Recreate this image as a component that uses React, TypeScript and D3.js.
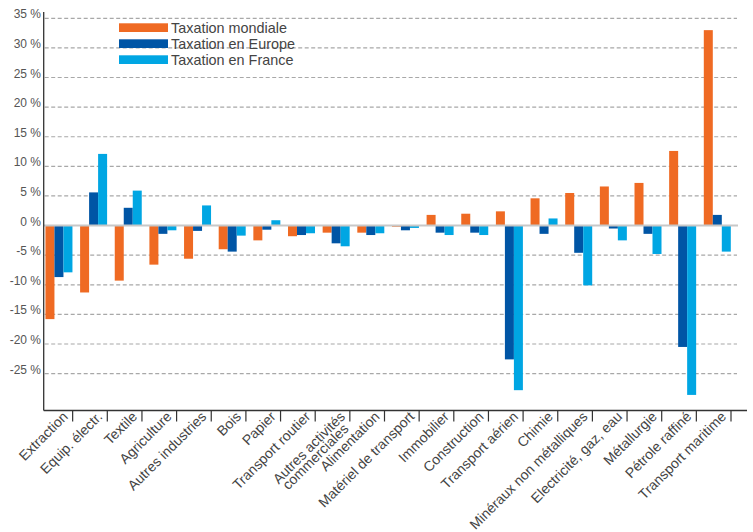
import React from "react";
import * as d3 from "d3";

const categories = [
  "Extraction",
  "Equip. électr.",
  "Textile",
  "Agriculture",
  "Autres industries",
  "Bois",
  "Papier",
  "Transport routier",
  "Autres activités\ncommerciales",
  "Alimentation",
  "Matériel de transport",
  "Immobilier",
  "Construction",
  "Transport aérien",
  "Chimie",
  "Minéraux non métalliques",
  "Electricité, gaz, eau",
  "Métallurgie",
  "Pétrole raffiné",
  "Transport maritime",
];

const seriesNames = ["Taxation mondiale", "Taxation en Europe", "Taxation en France"];
const seriesColors = ["#EF6A23", "#0055A5", "#00A6E3"];

const mondiale = [-15.8, -11.3, -9.3, -6.6, -5.6, -4.0, -2.5, -1.8, -1.2, -1.2, -0.2, 1.8, 2.0, 2.4, 4.6, 5.5, 6.6, 7.2, 12.6, 33.0];
const europe = [-8.7, 5.6, 3.0, -1.4, -0.9, -4.4, -0.7, -1.6, -3.0, -1.6, -0.8, -1.2, -1.2, -22.6, -1.4, -4.6, -0.5, -1.4, -20.5, 1.8];
const france = [-7.9, 12.1, 5.9, -0.8, 3.4, -1.7, 0.9, -1.3, -3.5, -1.3, -0.4, -1.6, -1.6, -27.8, 1.2, -10.1, -2.5, -4.8, -28.6, -4.4];

const yTicks = [35, 30, 25, 20, 15, 10, 5, 0, -5, -10, -15, -20, -25];

const FONT = "'Liberation Sans', Arial, sans-serif";

export default function App() {
  const W = 753;
  const H = 532;
  const y = d3.scaleLinear().domain([-25, 35]).range([373.6, 18.3]);
  const x = d3.scaleBand<string>().domain(categories).range([38, 731]).paddingInner(0).paddingOuter(0);
  const bw = x.bandwidth();
  const xs = d3.scaleBand<string>().domain(seriesNames).range([bw - 27.2, bw - 0.2]);
  const series = [mondiale, europe, france];
  const axisX = 43.7;
  const axisY = 410.5;

  return (
    <svg
      width={W}
      height={H}
      style={{ position: "absolute", left: 0, top: 0, background: "#fff" }}
      fontFamily={FONT}
    >
      {/* gridlines */}
      {yTicks.filter((t) => t !== 0).map((t) => (
        <line
          key={"g" + t}
          x1={axisX + 1}
          x2={737}
          y1={y(t)}
          y2={y(t)}
          stroke="#a8a8a8"
          strokeWidth={1.2}
          strokeDasharray="4,2.5"
        />
      ))}
      {/* bars */}
      {series.map((vals, si) =>
        vals.map((v, i) => {
          const cx = (x(categories[i]) as number) + (xs(seriesNames[si]) as number);
          const y0 = y(0);
          const y1 = y(v);
          return (
            <rect
              key={si + "-" + i}
              x={cx}
              y={Math.min(y0, y1)}
              width={xs.bandwidth()}
              height={Math.abs(y1 - y0)}
              fill={seriesColors[si]}
            />
          );
        })
      )}
      {/* zero line */}
      <line x1={axisX} x2={738} y1={y(0)} y2={y(0)} stroke="#c8c8c8" strokeWidth={2} />
      {/* y axis */}
      <line x1={axisX} x2={axisX} y1={12} y2={axisY} stroke="#333" strokeWidth={1.3} />
      {yTicks.map((t) => (
        <text
          key={"t" + t}
          x={41}
          y={y(t)}
          textAnchor="end"
          fontSize={12}
          fill="#555"
        >
          {t + " %"}
        </text>
      ))}
      {/* x axis */}
      <line x1={axisX} x2={747} y1={axisY} y2={axisY} stroke="#333" strokeWidth={1.3} />
      {categories.map((c) => {
        const xe = (x(c) as number) + bw;
        return (
          <line key={"tk" + c} x1={xe} x2={xe} y1={axisY} y2={axisY + 11} stroke="#333" strokeWidth={1.2} />
        );
      })}
      {categories.map((c) => {
        const xe = (x(c) as number) + bw - 4;
        const lines = c.split("\n");
        return (
          <text
            key={"l" + c}
            transform={`translate(${xe},${417.5}) rotate(-45)`}
            textAnchor="end"
            fontSize={14}
            fill="#444"
          >
            {lines.map((ln, k) => (
              <tspan key={k} x={k === 0 ? 0 : -6} dy={k === 0 ? 0 : 11}>
                {ln}
              </tspan>
            ))}
          </text>
        );
      })}
      {/* legend */}
      {seriesNames.map((s, i) => (
        <g key={"lg" + s} transform={`translate(119,${23.3 + i * 16})`}>
          <rect x={0} y={0} width={49} height={8.7} fill={seriesColors[i]} />
          <text x={52} y={9.3} fontSize={14.4} fill="#444">
            {s}
          </text>
        </g>
      ))}
    </svg>
  );
}
